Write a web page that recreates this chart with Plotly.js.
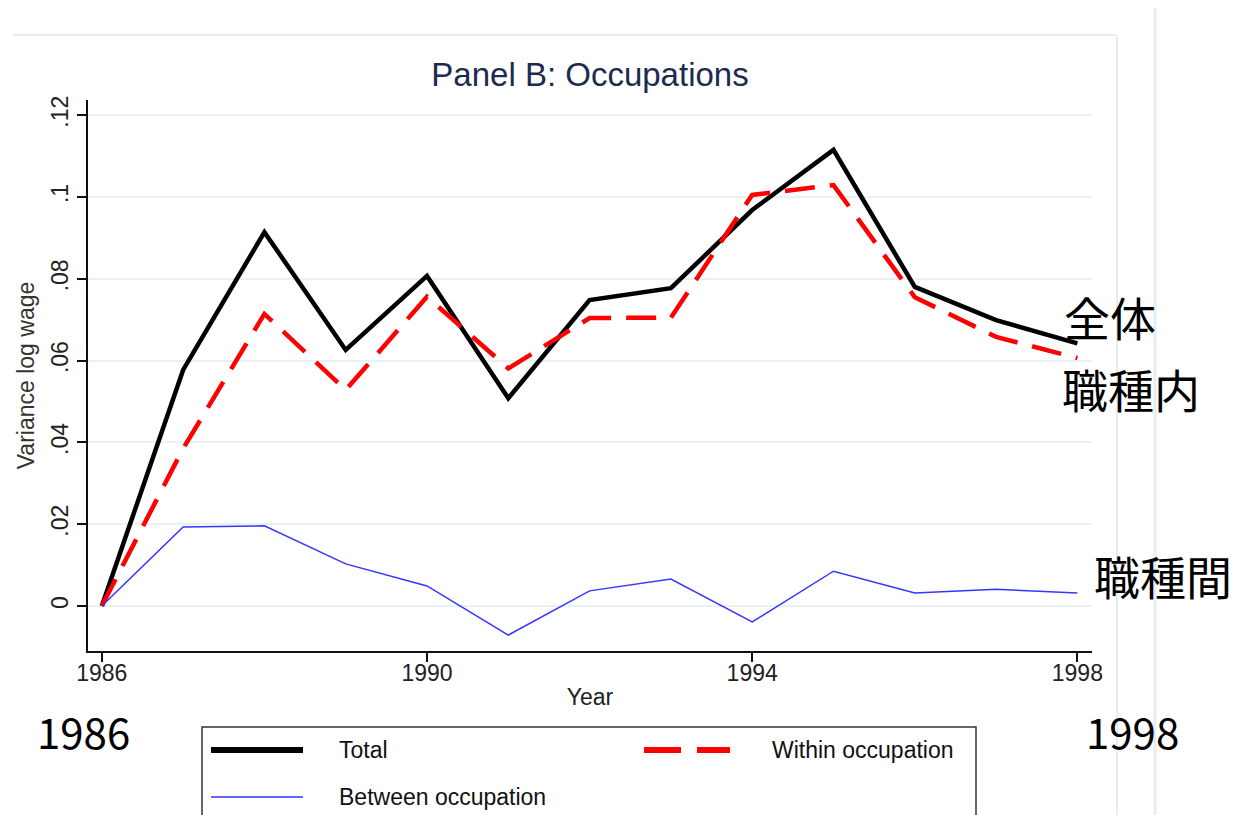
<!DOCTYPE html>
<html>
<head>
<meta charset="utf-8">
<script src="https://cdn.plot.ly/plotly-3.0.1.min.js"></script>
<style>html,body{margin:0;padding:0;background:#fff;}#chart{width:1235px;height:815px;}</style>
</head>
<body>
<div id="chart"></div>
<script>
// ---- data ----
const years = [1986, 1987, 1988, 1989, 1990, 1991, 1992, 1993, 1994, 1995, 1996, 1997, 1998];
const total = [0, 0.0577, 0.0914, 0.0626, 0.0807, 0.0508, 0.0748, 0.0777, 0.0968, 0.1115, 0.0780, 0.0699, 0.0642];
const within = [0, 0.0385, 0.0714, 0.0528, 0.0756, 0.0581, 0.0704, 0.0705, 0.1005, 0.1029, 0.0755, 0.0658, 0.0606];
const between = [0, 0.0193, 0.0196, 0.0103, 0.0049, -0.0071, 0.0037, 0.0066, -0.0039, 0.0085, 0.0032, 0.0041, 0.0032];
const seriesNames = ["Total", "Within occupation", "Between occupation"];
const yTickVals = [0, 0.02, 0.04, 0.06, 0.08, 0.1, 0.12];
const yTickText = ["0", ".02", ".04", ".06", ".08", ".1", ".12"];
const xTickVals = [1986, 1990, 1994, 1998];
const titleText = "Panel B: Occupations";
const xTitle = "Year";
const yTitle = "Variance log wage";
const jpLabels = ["全体", "職種内", "職種間"];
const endYearLabels = ["1986", "1998"];

// ---- layout geometry ----
const W = 1235, H = 815;
const M = {l: 88, r: 143, t: 100, b: 164};
const PW = W - M.l - M.r, PH = H - M.t - M.b;
const px = x => (x - M.l) / PW;        // pixel x -> paper x
const py = y => (H - M.b - y) / PH;    // pixel y -> paper y

const BASE = "Liberation Sans, Arial, sans-serif";
const JP = "Noto Sans CJK JP, Noto Sans, sans-serif";

const traces = [
  {x: years, y: total, name: seriesNames[0], mode: "lines", line: {color: "#000000", width: 4.5}},
  {x: years, y: within, name: seriesNames[1], mode: "lines", line: {color: "#ff0000", width: 4.5, dash: "30px,15px"}},
  {x: years, y: between, name: seriesNames[2], mode: "lines", line: {color: "#3535ff", width: 1.5}}
];

const legendLine = (x0, x1, y, color, width, dash) => ({
  type: "line", xref: "paper", yref: "paper",
  x0: px(x0), x1: px(x1), y0: py(y), y1: py(y),
  line: {color: color, width: width, dash: dash || "solid"}
});
const paperText = (text, x, y, size, family, anchor, color) => ({
  text: text, xref: "paper", yref: "paper", x: px(x), y: py(y),
  xanchor: anchor || "left", yanchor: "middle", showarrow: false,
  font: {family: family, size: size, color: color || "#000"}
});

const layout = {
  width: W, height: H,
  margin: M,
  paper_bgcolor: "#ffffff", plot_bgcolor: "#ffffff",
  showlegend: false,
  title: {
    text: titleText, x: 0.5, xref: "paper", xanchor: "center",
    y: 1 - 74 / H, yref: "container", yanchor: "middle",
    font: {family: BASE, size: 33, color: "#1c2b4e"}
  },
  xaxis: {
    range: [1985.83, 1998.18],
    tickmode: "array", tickvals: xTickVals, ticktext: xTickVals.map(String),
    ticks: "outside", ticklen: 9, tickwidth: 2, tickcolor: "#111",
    ticklabelstandoff: -9,
    showline: true, linecolor: "#111", linewidth: 2,
    showgrid: false, zeroline: false,
    tickfont: {family: BASE, size: 23, color: "#222"},
    title: {text: xTitle, standoff: 4, font: {family: BASE, size: 23, color: "#222"}}
  },
  yaxis: {
    range: [-0.011, 0.1237],
    tickmode: "array", tickvals: yTickVals, ticktext: yTickText,
    tickangle: -90,
    ticks: "outside", ticklen: 9, tickwidth: 2, tickcolor: "#111",
    showline: true, linecolor: "#111", linewidth: 2,
    showgrid: true, gridcolor: "#eaf1f3", gridwidth: 2,
    zeroline: false,
    tickfont: {family: BASE, size: 23, color: "#222"},
    title: {text: yTitle, standoff: 6, font: {family: BASE, size: 23, color: "#333"}}
  },
  shapes: [
    // faint outer frame lines of the original graph region / slide
    {type: "line", xref: "paper", yref: "paper", x0: px(13), x1: px(1117), y0: py(35), y1: py(35), line: {color: "#e6eef0", width: 2}},
    {type: "line", xref: "paper", yref: "paper", x0: px(1117), x1: px(1117), y0: py(35), y1: py(820), line: {color: "#e6eef0", width: 2}},
    {type: "line", xref: "paper", yref: "paper", x0: px(1155), x1: px(1155), y0: py(8), y1: py(820), line: {color: "#e6eef0", width: 3}},
    // legend box and keys
    {type: "rect", xref: "paper", yref: "paper", x0: px(202), x1: px(976), y0: py(727), y1: py(840), line: {color: "#333", width: 1.5}, fillcolor: "rgba(0,0,0,0)"},
    legendLine(211, 303, 750, "#000000", 6),
    legendLine(644, 730, 750, "#ff0000", 6, "37px,16px"),
    legendLine(211, 303, 797, "#3535ff", 1.5)
  ],
  annotations: [
    paperText(seriesNames[0], 337, 750, 23, BASE, "left", "#111"),
    paperText(seriesNames[1], 770, 750, 23, BASE, "left", "#111"),
    paperText(seriesNames[2], 337, 797, 23, BASE, "left", "#111"),
    paperText(jpLabels[0], 1062, 316, 46, JP, "left"),
    paperText(jpLabels[1], 1060, 388, 46, JP, "left"),
    paperText(jpLabels[2], 1092, 575, 46, JP, "left"),
    paperText(endYearLabels[0], 83, 730, 42, JP, "center"),
    paperText(endYearLabels[1], 1132, 730, 42, JP, "center")
  ]
};

Plotly.newPlot("chart", traces, layout, {displayModeBar: false, staticPlot: true});
</script>
</body>
</html>
